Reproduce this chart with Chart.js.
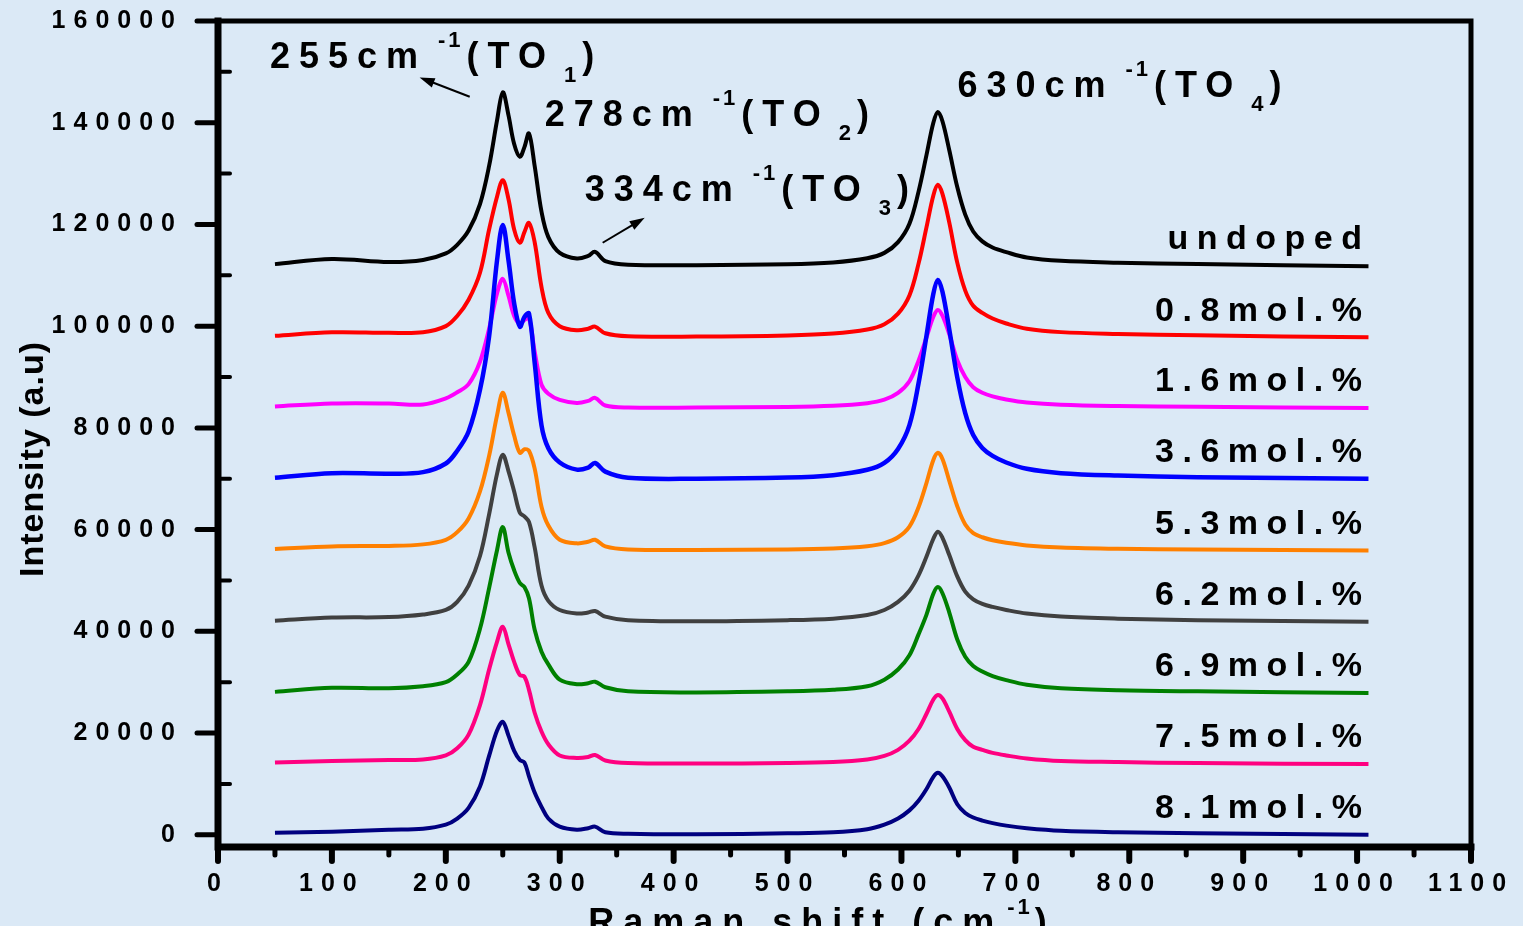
<!DOCTYPE html>
<html>
<head>
<meta charset="utf-8">
<script src="https://cdn.jsdelivr.net/npm/chart.js@4.4.1/dist/chart.umd.min.js"></script>
<style>
  html, body { margin: 0; padding: 0; background: #dbe9f6; }
  #wrap { width: 1523px; height: 926px; position: relative; }
</style>
</head>
<body>
<div id="wrap"><canvas id="chart"></canvas></div>
<script>
// Raman shift (cm-1) sample points, shared by all spectra
var ramanShift = [50, 100, 150, 180, 200, 210, 220, 230, 238, 245, 250, 255, 260, 265, 269, 273, 278, 284, 290, 300,
  315, 325, 331, 340, 360, 420, 500, 540, 570, 585, 597, 607, 615, 622, 628, 632, 636, 642, 649, 656,
  663, 671, 680, 692, 710, 740, 790, 860, 1010];

var undoped = [112200, 113200, 112600, 113000, 114300, 116000, 118800, 124000, 131500, 140500, 146000, 141500, 135800, 133300, 135200, 137900, 131500, 122500, 117500, 114400,
  113300, 113800, 114600, 112800, 112100, 112000, 112180, 112540, 113360, 114410, 116520, 120130, 126450, 133670, 139990, 142100, 140290, 134580, 127350, 121930,
  118620, 116670, 115460, 114560, 113500, 112840, 112480, 112200, 111800];
var mol08 = [98100, 98800, 98700, 98800, 100000, 102000, 105200, 110500, 119000, 125500, 128700, 125000, 119000, 116400, 118500, 120300, 116500, 107700, 102600, 100000,
  99200, 99500, 99900, 98600, 98000, 97950, 98180, 98540, 99340, 100380, 102470, 106050, 112300, 119460, 125710, 127800, 126010, 120350, 112500, 107000,
  104000, 102600, 101500, 100530, 99490, 98830, 98480, 98200, 97800];
var mol16 = [84200, 84800, 84800, 84600, 85800, 87000, 88600, 93000, 99500, 106500, 109300, 106000, 102000, 100500, 101200, 101600, 95000, 88500, 86700, 85500,
  84900, 85300, 85900, 84400, 84000, 84000, 84120, 84350, 84860, 85540, 86880, 89180, 93220, 97820, 101860, 103200, 102050, 98400, 93300, 90000,
  88000, 86900, 86200, 85600, 85000, 84550, 84300, 84150, 83900];
var mol36 = [70200, 71100, 71000, 71300, 73000, 75500, 79300, 87500, 98000, 113000, 119900, 113000, 104500, 99900, 101800, 102500, 92800, 80500, 76000, 73200,
  71800, 72200, 73100, 71400, 70200, 70000, 70230, 70700, 71760, 73130, 75870, 80560, 88770, 98150, 106360, 109100, 106750, 99330, 89940, 82900,
  78600, 76060, 74500, 73200, 71960, 71100, 70630, 70310, 70000];
var mol53 = [56200, 56700, 56800, 57100, 58000, 59500, 62200, 67500, 74500, 82500, 86900, 83000, 78500, 75100, 75800, 75500, 72000, 64500, 60800, 58000,
  57300, 57600, 58000, 56700, 56100, 56000, 56100, 56300, 56750, 57350, 58500, 60600, 64400, 69200, 73700, 75100, 73900, 69600, 64600, 61000,
  59300, 58500, 57900, 57400, 56900, 56500, 56250, 56100, 55900];
var mol62 = [42100, 42700, 42800, 43300, 44200, 45800, 49000, 54800, 63000, 71000, 74700, 71500, 67500, 63300, 62600, 61500, 56500, 49000, 46000, 44200,
  43500, 43700, 44000, 42900, 42200, 42000, 42200, 42500, 43200, 44200, 45800, 48000, 51000, 54700, 58200, 59600, 58400, 55000, 50800, 47800,
  46300, 45400, 44800, 44200, 43500, 42900, 42500, 42200, 41900];
var mol69 = [28100, 28900, 28800, 29200, 30000, 31500, 34000, 40500, 48500, 56000, 60500, 55500, 52000, 49500, 48700, 46500, 40300, 36000, 33500, 30500,
  29600, 29800, 30100, 29000, 28200, 28000, 28200, 28500, 29200, 30500, 32500, 35300, 39400, 43300, 47400, 48700, 47500, 43700, 38400, 35000,
  33200, 32100, 31200, 30400, 29500, 28800, 28400, 28200, 27900];
var mol75 = [14200, 14500, 14700, 14800, 15600, 17000, 19700, 25500, 32500, 38000, 40900, 37500, 34000, 31400, 31100, 28500, 24000, 20300, 17800, 15600,
  15100, 15300, 15700, 14600, 14100, 14000, 14100, 14300, 14800, 15500, 16700, 18500, 20800, 23800, 26600, 27500, 26800, 24200, 20800, 18600,
  17300, 16700, 16100, 15600, 15000, 14500, 14300, 14100, 13900];
var mol81 = [400, 600, 1000, 1200, 2000, 3200, 5300, 9500, 15500, 20500, 22200, 19500, 16500, 14700, 14200, 11500, 8300, 5500, 3200, 1600,
  1000, 1300, 1600, 500, 200, 100, 300, 500, 1100, 2000, 3200, 4800, 6700, 9000, 11400, 12200, 11500, 9300, 6000, 4300,
  3400, 2800, 2300, 1800, 1300, 800, 500, 300, 0];

var seriesNames = ['undoped', '0.8mol.%', '1.6mol.%', '3.6mol.%', '5.3mol.%', '6.2mol.%', '6.9mol.%', '7.5mol.%', '8.1mol.%'];
var seriesValues = [undoped, mol08, mol16, mol36, mol53, mol62, mol69, mol75, mol81];
var seriesColors = ['#000000', '#ff0000', '#ff00ff', '#0000ff', '#ff8000', '#404040', '#008000', '#ff0080', '#000080'];

var xMajorTicks = [0, 100, 200, 300, 400, 500, 600, 700, 800, 900, 1000, 1100];
var xMinorTicks = [50, 150, 250, 350, 450, 550, 650, 750, 850, 950, 1050];
var yMajorTicks = [0, 20000, 40000, 60000, 80000, 100000, 120000, 140000, 160000];
var yMinorTicks = [10000, 30000, 50000, 70000, 90000, 110000, 130000, 150000];

// peak notes: [wavenumber text, TO index, anchor x, anchor y] in data units
var peakNotes = [
  ['255cm', '1', 45.6, 150800],
  ['278cm', '2', 286.8, 139300],
  ['334cm', '3', 321.9, 124600],
  ['630cm', '4', 649.1, 145100]
];
var noteArrows = [
  [221, 145100, 177, 148900],
  [337.7, 116400, 374.6, 121300]
];

var FONT = '"Liberation Sans", Arial, sans-serif';

var datasets = seriesValues.map(function (vals, i) {
  return {
    label: seriesNames[i],
    data: ramanShift.map(function (x, j) { return { x: x, y: vals[j] }; }),
    borderColor: seriesColors[i],
    borderWidth: i === 3 ? 4.5 : 4,
    pointRadius: 0,
    fill: false,
    tension: 0.35,
    order: seriesValues.length - i
  };
});

function drawRich(ctx, x, y, pieces) {
  pieces.forEach(function (p) {
    x += p.gap || 0;
    ctx.font = 'bold ' + p.size + 'px ' + FONT;
    ctx.letterSpacing = p.ls + 'px';
    ctx.fillText(p.t, x, y + (p.dy || 0));
    x += ctx.measureText(p.t).width;
  });
}

function noPad(scale) {
  scale.paddingTop = 0;
  scale.paddingBottom = 0;
  scale.paddingLeft = 0;
  scale.paddingRight = 0;
}

var decorPlugin = {
  id: 'decor',
  beforeDraw: function (chart) {
    chart.ctx.letterSpacing = '8px';
  },
  afterDatasetsDraw: function (chart) {
    var ctx = chart.ctx;
    var a = chart.chartArea;
    var xs = chart.scales.x, ys = chart.scales.y;
    ctx.save();
    ctx.strokeStyle = '#000';
    ctx.fillStyle = '#000';
    ctx.lineCap = 'round';

    // ticks: major y outward, minor y inward, x ticks outward
    ctx.lineWidth = 5;
    yMajorTicks.forEach(function (v) {
      var p = ys.getPixelForValue(v);
      ctx.beginPath(); ctx.moveTo(a.left - 21, p); ctx.lineTo(a.left, p); ctx.stroke();
    });
    ctx.lineWidth = 4;
    yMinorTicks.forEach(function (v) {
      var p = ys.getPixelForValue(v);
      ctx.beginPath(); ctx.moveTo(a.left, p); ctx.lineTo(a.left + 12, p); ctx.stroke();
    });
    ctx.lineWidth = 6;
    xMajorTicks.forEach(function (v) {
      var p = xs.getPixelForValue(v);
      ctx.beginPath(); ctx.moveTo(p, a.bottom); ctx.lineTo(p, a.bottom + 14); ctx.stroke();
    });
    ctx.lineWidth = 5;
    xMinorTicks.forEach(function (v) {
      var p = xs.getPixelForValue(v);
      ctx.beginPath(); ctx.moveTo(p, a.bottom); ctx.lineTo(p, a.bottom + 8); ctx.stroke();
    });

    // frame
    ctx.lineCap = 'square';
    ctx.lineWidth = 5;
    ctx.beginPath();
    ctx.moveTo(a.left, a.top); ctx.lineTo(a.right, a.top); ctx.lineTo(a.right, a.bottom);
    ctx.stroke();
    ctx.lineWidth = 7;
    ctx.beginPath();
    ctx.moveTo(a.left, a.top); ctx.lineTo(a.left, a.bottom); ctx.lineTo(a.right, a.bottom);
    ctx.stroke();

    // arrows
    ctx.lineWidth = 2;
    ctx.lineCap = 'butt';
    noteArrows.forEach(function (ar) {
      var x1 = xs.getPixelForValue(ar[0]), y1 = ys.getPixelForValue(ar[1]);
      var x2 = xs.getPixelForValue(ar[2]), y2 = ys.getPixelForValue(ar[3]);
      var ang = Math.atan2(y2 - y1, x2 - x1);
      ctx.beginPath(); ctx.moveTo(x1, y1);
      ctx.lineTo(x2 - 10 * Math.cos(ang), y2 - 10 * Math.sin(ang)); ctx.stroke();
      ctx.beginPath();
      ctx.moveTo(x2, y2);
      ctx.lineTo(x2 - 15 * Math.cos(ang) + 5 * Math.sin(ang), y2 - 15 * Math.sin(ang) - 5 * Math.cos(ang));
      ctx.lineTo(x2 - 15 * Math.cos(ang) - 5 * Math.sin(ang), y2 - 15 * Math.sin(ang) + 5 * Math.cos(ang));
      ctx.closePath(); ctx.fill();
    });

    // peak notes
    ctx.textAlign = 'left';
    ctx.textBaseline = 'alphabetic';
    peakNotes.forEach(function (n) {
      drawRich(ctx, xs.getPixelForValue(n[2]), ys.getPixelForValue(n[3]), [
        { t: n[0], size: 36, ls: 9 },
        { t: '-1', size: 22, ls: 3, dy: -21, gap: 11 },
        { t: '(TO', size: 36, ls: 9, gap: 3 },
        { t: n[1], size: 22, ls: 3, dy: 14, gap: 9 },
        { t: ')', size: 36, ls: 0, gap: 3 }
      ]);
    });

    // series labels at right
    ctx.textAlign = 'right';
    ctx.font = 'bold 34px ' + FONT;
    ctx.letterSpacing = '8.5px';
    seriesValues.forEach(function (vals, i) {
      var last = vals[vals.length - 1];
      ctx.fillText(seriesNames[i], xs.getPixelForValue(ramanShift[ramanShift.length - 1]) + 2,
        ys.getPixelForValue(last + 3300));
    });

    // axis titles
    ctx.textAlign = 'left';
    drawRich(ctx, xs.getPixelForValue(325), a.bottom + 87, [
      { t: 'Raman shift (cm', size: 36, ls: 9 },
      { t: '-1', size: 22, ls: 3, dy: -20, gap: 4 },
      { t: ')', size: 36, ls: 0, gap: 2 }
    ]);
    ctx.save();
    ctx.translate(a.left - 175, (a.top + a.bottom) / 2 + 25);
    ctx.rotate(-Math.PI / 2);
    ctx.textAlign = 'center';
    ctx.font = 'bold 34px ' + FONT;
    ctx.letterSpacing = '1px';
    ctx.fillText('Intensity (a.u)', 0, 0);
    ctx.restore();

    ctx.letterSpacing = '0px';
    ctx.restore();
  }
};

new Chart(document.getElementById('chart'), {
  type: 'line',
  data: { datasets: datasets },
  plugins: [decorPlugin],
  options: {
    responsive: true,
    maintainAspectRatio: false,
    animation: false,
    layout: { padding: { left: 0, top: 21, right: 52, bottom: 0 } },
    plugins: { legend: { display: false }, tooltip: { enabled: false } },
    scales: {
      x: {
        type: 'linear',
        min: 0,
        max: 1100,
        afterBuildTicks: function (scale) {
          scale.ticks = xMajorTicks.map(function (v) { return { value: v }; });
        },
        afterFit: function (scale) { scale.height = 79; noPad(scale); },
        grid: { display: false, drawTicks: false },
        border: { display: false },
        ticks: {
          color: '#000',
          font: { family: FONT, size: 25, weight: 'bold' },
          padding: 22,
          maxRotation: 0,
          autoSkip: false,
          callback: function (v) { return String(v); }
        }
      },
      y: {
        type: 'linear',
        min: -2400,
        max: 160000,
        afterBuildTicks: function (scale) {
          scale.ticks = yMajorTicks.map(function (v) { return { value: v }; });
        },
        afterFit: function (scale) { scale.width = 218; noPad(scale); },
        grid: { display: false, drawTicks: false },
        border: { display: false },
        ticks: {
          color: '#000',
          font: { family: FONT, size: 25, weight: 'bold' },
          padding: 35,
          autoSkip: false,
          callback: function (v) { return String(v); }
        }
      }
    }
  }
});
</script>
</body>
</html>
